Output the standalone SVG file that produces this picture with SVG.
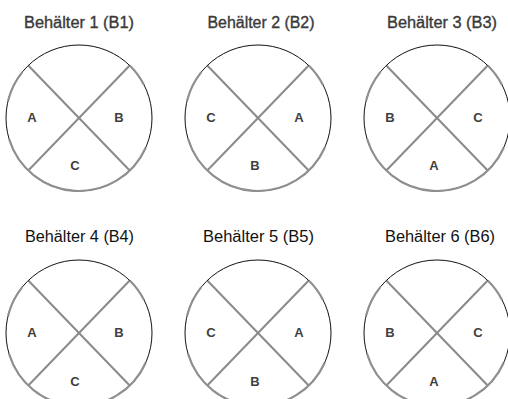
<svg xmlns="http://www.w3.org/2000/svg" width="508" height="399" viewBox="0 0 508 399">
<style>
.bg{fill:#ffffff}
.title{font-family:"Liberation Sans",Arial,sans-serif;font-size:16px;text-anchor:middle}
.t1{fill:#3a3a3a;stroke:#3a3a3a;stroke-width:0.35}
.t2{fill:#111111}
.rim{fill:none;stroke:#111111;stroke-width:1}
.arc{fill:none;stroke:#8f8f8f;stroke-width:2.2}
.cut{fill:none;stroke:#8a8a8a;stroke-width:2}
.lab{font-family:"Liberation Sans",Arial,sans-serif;font-size:13px;font-weight:bold;fill:#404040;text-anchor:middle}
</style>
<defs>
<g id="disc">
<circle class="rim" cx="0" cy="0" r="73"/>
<path class="arc" d="M-70.8,-17.7 A73,73 0 0 1 -56.7,-45.9"/>
<path class="arc" d="M66.7,29.7 A73,73 0 0 1 -69.8,21.3"/>
<path class="arc" d="M50.7,-52.5 A73,73 0 0 1 65,-33.1"/>
</g>
</defs>
<rect class="bg" x="0" y="0" width="508" height="399"/>
<g id="connectors">
<g transform="translate(79,118)"><line class="cut" x1="-50.7" y1="-52.5" x2="50.7" y2="52.5"/><line class="cut" x1="50.7" y1="-52.5" x2="-50.7" y2="52.5"/></g>
<g transform="translate(258,118)"><line class="cut" x1="-50.7" y1="-52.5" x2="50.7" y2="52.5"/><line class="cut" x1="50.7" y1="-52.5" x2="-50.7" y2="52.5"/></g>
<g transform="translate(437,118)"><line class="cut" x1="-50.7" y1="-52.5" x2="50.7" y2="52.5"/><line class="cut" x1="50.7" y1="-52.5" x2="-50.7" y2="52.5"/></g>
<g transform="translate(79,333)"><line class="cut" x1="-50.7" y1="-52.5" x2="50.7" y2="52.5"/><line class="cut" x1="50.7" y1="-52.5" x2="-50.7" y2="52.5"/></g>
<g transform="translate(258,333)"><line class="cut" x1="-50.7" y1="-52.5" x2="50.7" y2="52.5"/><line class="cut" x1="50.7" y1="-52.5" x2="-50.7" y2="52.5"/></g>
<g transform="translate(437,333)"><line class="cut" x1="-50.7" y1="-52.5" x2="50.7" y2="52.5"/><line class="cut" x1="50.7" y1="-52.5" x2="-50.7" y2="52.5"/></g>
</g>
<g id="b1">
<text class="title t1" x="79" y="28" textLength="110" lengthAdjust="spacingAndGlyphs">Behälter 1 (B1)</text>
<use href="#disc" transform="translate(79,118)"/>
<text class="lab" x="32" y="122">A</text><text class="lab" x="119" y="122">B</text><text class="lab" x="75" y="170">C</text>
</g>
<g id="b2">
<text class="title t1" x="261" y="28" textLength="107" lengthAdjust="spacingAndGlyphs">Behälter 2 (B2)</text>
<use href="#disc" transform="translate(258,118)"/>
<text class="lab" x="211" y="122">C</text><text class="lab" x="299" y="122">A</text><text class="lab" x="255" y="170">B</text>
</g>
<g id="b3">
<text class="title t1" x="442" y="28" textLength="110" lengthAdjust="spacingAndGlyphs">Behälter 3 (B3)</text>
<use href="#disc" transform="translate(437,118)"/>
<text class="lab" x="390" y="122">B</text><text class="lab" x="478" y="122">C</text><text class="lab" x="434" y="170">A</text>
</g>
<g id="b4">
<text class="title t2" x="79.5" y="242" textLength="109" lengthAdjust="spacingAndGlyphs">Behälter 4 (B4)</text>
<use href="#disc" transform="translate(79,333)"/>
<text class="lab" x="32" y="337">A</text><text class="lab" x="119" y="337">B</text><text class="lab" x="75" y="386">C</text>
</g>
<g id="b5">
<text class="title t2" x="258.5" y="242" textLength="111" lengthAdjust="spacingAndGlyphs">Behälter 5 (B5)</text>
<use href="#disc" transform="translate(258,333)"/>
<text class="lab" x="211" y="337">C</text><text class="lab" x="299" y="337">A</text><text class="lab" x="255" y="386">B</text>
</g>
<g id="b6">
<text class="title t2" x="440" y="242" textLength="110" lengthAdjust="spacingAndGlyphs">Behälter 6 (B6)</text>
<use href="#disc" transform="translate(437,333)"/>
<text class="lab" x="390" y="337">B</text><text class="lab" x="478" y="337">C</text><text class="lab" x="434" y="386">A</text>
</g>
</svg>
